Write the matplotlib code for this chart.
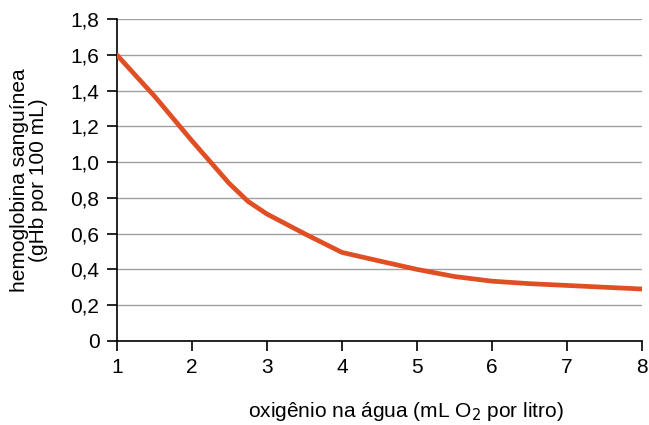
import matplotlib
matplotlib.use("Agg")
import matplotlib.pyplot as plt

plt.rcParams['font.family'] = ['Liberation Sans', 'DejaVu Sans']

oxigenio = [1, 1.5, 2, 2.5, 2.75, 3, 3.5, 4, 4.5, 5, 5.5, 6, 6.5, 7, 7.5, 8]
hemoglobina = [1.6, 1.37, 1.12, 0.88, 0.78, 0.71, 0.60, 0.495, 0.447, 0.40,
               0.36, 0.334, 0.32, 0.31, 0.30, 0.29]
y_ticks = [0, 0.2, 0.4, 0.6, 0.8, 1.0, 1.2, 1.4, 1.6, 1.8]
y_labels = ['0', '0,2', '0,4', '0,6', '0,8', '1,0', '1,2', '1,4', '1,6', '1,8']

fig = plt.figure(figsize=(6.49, 4.25), dpi=100)
ax = fig.add_axes([0.180, 0.198, 0.809, 0.757])

ax.plot(oxigenio, hemoglobina, color='#e04e24', linewidth=3.4,
        solid_capstyle='round', solid_joinstyle='round', zorder=3)

ax.set_xlim(1, 8)
ax.set_ylim(0, 1.8)
ax.set_yticks(y_ticks)
ax.set_yticklabels(y_labels)
ax.set_xticks(range(1, 9))
ax.yaxis.grid(True, color='#a0a0a0', linewidth=1)
ax.set_axisbelow(True)

for s in ['top', 'right']:
    ax.spines[s].set_visible(False)
for s in ['left', 'bottom']:
    ax.spines[s].set_linewidth(1.2)
ax.tick_params(axis='both', labelsize=15, width=1.2, length=7.5, pad=5,
               direction='out')

ax.set_ylabel('hemoglobina sanguínea\n(gHb por 100 mL)', fontsize=15, labelpad=16,
              linespacing=1.0)
fig.text(406 / 649, 2 / 425, 'oxigênio na água (mL O$_2$ por litro)',
         fontsize=15, ha='center', va='bottom')

fig.savefig('out.png', dpi=100)
